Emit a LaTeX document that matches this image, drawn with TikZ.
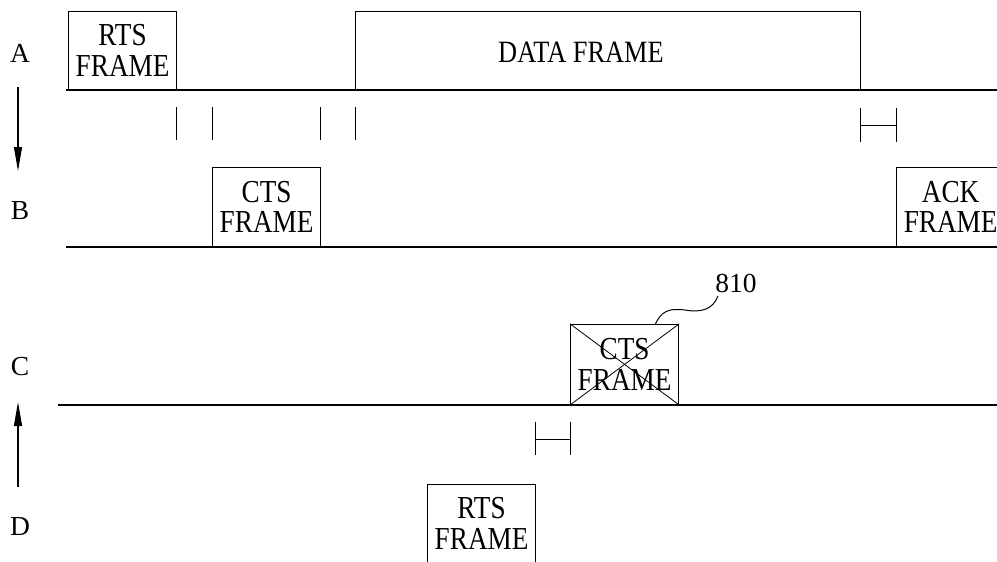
\documentclass[tikz,border=0pt]{standalone}
\usepackage{fontspec}
\setmainfont{Liberation Serif}
\newfontfamily\framefont[FakeStretch=0.85]{Liberation Serif}
\usetikzlibrary{arrows.meta}
\begin{document}
\begin{tikzpicture}[x=1pt,y=-1pt,
  frm/.style={draw, line width=1.2pt, minimum width=108pt, minimum height=78pt,
    inner sep=0pt, anchor=south west, align=center,
    font=\framefont\fontsize{32}{30.5}\selectfont},
  tl/.style={line width=1.4pt},
  tk/.style={line width=0.8pt},
  lab/.style={font=\fontsize{27.5}{27.5}\selectfont, inner sep=0pt, anchor=base},
  dirarrow/.style={line width=1.1pt, -{Triangle[length=24pt,width=8pt]}},
]
\useasboundingbox (0,0) rectangle (997,562);

% row labels
\node[lab] (lA) at (20,62) {A};
\node[lab] (lB) at (20,219) {B};
\node[lab] (lC) at (20,375) {C};
\node[lab] (lD) at (20,535) {D};
\coordinate (aAs) at (18,87);
\coordinate (aAe) at (18,171);
\coordinate (aDs) at (18,487);
\coordinate (aDe) at (18,402);
\draw[dirarrow] (aAs) -- (aAe);
\draw[dirarrow] (aDs) -- (aDe);

% time lines
\draw[tl] (66,90) -- (997,90);
\draw[tl] (66,247) -- (997,247);
\draw[tl] (58,405) -- (997,405);

% frames
\node[frm] (rtsA) at (68,90) {RTS\\FRAME};
\node[frm, minimum width=505pt] (data) at (355,90) {};
\node[font=\framefont\fontsize{31}{31}\selectfont, inner sep=0pt] (datatxt) at (581,52) {DATA FRAME};
\node[frm, minimum height=79pt] (ctsB) at (212,247) {CTS\\FRAME};
\node[frm, minimum height=79pt] (ack) at (896,247) {ACK\\FRAME};
\node[frm, minimum height=80pt] (ctsC) at (570,405) {CTS\\FRAME};
\node[frm] (rtsD) at (427,563) {RTS\\FRAME};

% cross on the lost CTS frame
\draw[tk] (ctsC.north west) -- (ctsC.south east);
\draw[tk] (ctsC.north east) -- (ctsC.south west);

% reference numeral
\node[lab] (n810) at (736,292) {810};
\coordinate (sq) at (655,325);
\draw[line width=1pt] (sq) .. controls (661,311) and (669,308) .. (685,310)
  .. controls (702,313) and (713,309) .. (718,296);

% interval ticks
\foreach \x in {176,212,320,355} \draw[tk] (\x,107) -- (\x,140);
\draw[tk] (860,108) -- (860,142);
\draw[tk] (896,108) -- (896,142);
\draw[tk] (860,125) -- (896,125);
\draw[tk] (535,422) -- (535,455);
\draw[tk] (570,422) -- (570,455);
\draw[tk] (535,439) -- (570,439);
\end{tikzpicture}
\end{document}
